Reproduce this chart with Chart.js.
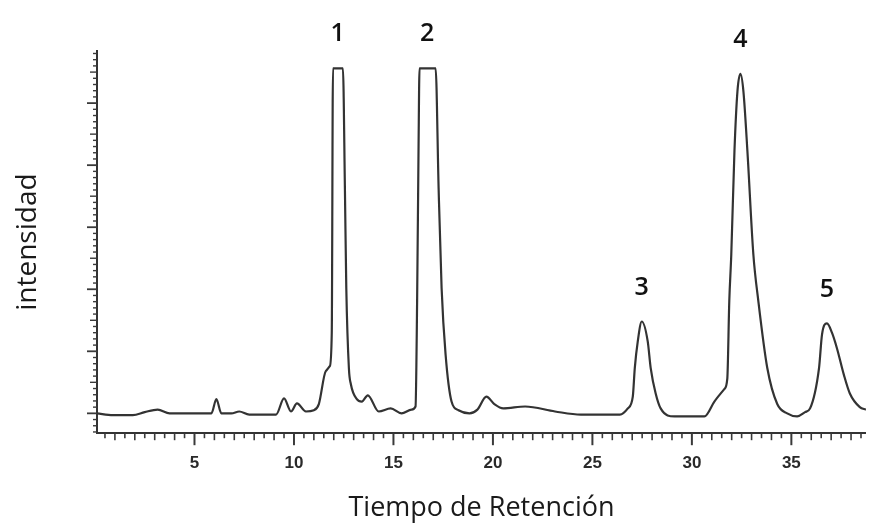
<!DOCTYPE html>
<html><head><meta charset="utf-8">
<script src="https://cdn.jsdelivr.net/npm/chart.js@4.4.0/dist/chart.umd.min.js"></script>
<style>html,body{margin:0;padding:0;background:#fff}</style>
</head><body>
<canvas id="c" width="869" height="532"></canvas>
<script>
// Retention time (min)
const retentionTime = [0.1, 0.9, 1.9, 2.5, 3.15, 3.75, 4.25, 5.85, 6.1, 6.35, 6.85, 7.25, 7.75, 9.1, 9.5, 9.85, 10.15, 10.6, 11.0, 11.25, 11.6, 11.8, 11.9, 11.96, 12.46, 12.56, 12.63, 12.76, 12.86, 13.16, 13.41, 13.71, 14.26, 14.86, 15.41, 15.91, 16.11, 16.19, 16.26, 16.31, 17.12, 17.27, 17.42, 17.62, 17.92, 18.27, 18.82, 19.22, 19.67, 20.07, 20.52, 21.62, 23.12, 24.42, 26.38, 26.78, 27.03, 27.13, 27.28, 27.48, 27.78, 27.93, 28.18, 28.43, 29.13, 30.63, 31.13, 31.63, 31.78, 31.88, 31.98, 32.14, 32.29, 32.44, 32.59, 32.79, 33.09, 33.34, 33.79, 34.29, 34.79, 35.29, 35.69, 35.94, 36.39, 36.54, 36.79, 37.04, 37.29, 37.64, 37.94, 38.44, 38.75];
// Detector intensity (arbitrary units)
const intensity = [0, -0.03, -0.03, 0.02, 0.06, 0, 0, 0, 0.23, 0, 0, 0.03, -0.02, -0.02, 0.24, 0.03, 0.16, 0.03, 0.05, 0.15, 0.68, 0.76, 1.3, 5.56, 5.56, 3.63, 2.02, 0.73, 0.47, 0.23, 0.19, 0.29, 0.03, 0.08, 0, 0.06, 0.11, 1.81, 4.23, 5.56, 5.56, 3.63, 2.02, 0.95, 0.19, 0.05, 0, 0.06, 0.27, 0.15, 0.08, 0.11, 0.03, -0.02, -0.02, 0.08, 0.27, 0.73, 1.16, 1.48, 1.16, 0.73, 0.32, 0.08, -0.05, -0.05, 0.19, 0.39, 0.56, 1.81, 2.56, 4.23, 5.19, 5.47, 5.19, 4.23, 2.56, 1.81, 0.73, 0.15, 0, -0.05, 0.02, 0.08, 0.73, 1.27, 1.45, 1.3, 1.05, 0.62, 0.32, 0.1, 0.06];
// Peak labels and their retention times
const peakNumbers = ['1', '2', '3', '4', '5'];
const peakTimes = [12.2, 16.7, 27.48, 32.44, 36.79];
// Labelled x ticks
const xTickLabels = [5, 10, 15, 20, 25, 30, 35];

const points = retentionTime.map((t, i) => ({x: t, y: intensity[i]}));
const near = (v, m) => Math.abs(v / m - Math.round(v / m)) < 1e-6;

const tickPlugin = {
  id: 'customTicks',
  afterDraw(chart) {
    const ctx = chart.ctx, xs = chart.scales.x, ys = chart.scales.y;
    ctx.save();
    ctx.strokeStyle = '#3a3a3a';
    xs.ticks.forEach(t => {
      const v = t.value, px = xs.getPixelForValue(v);
      const len = near(v, 5) ? 12 : (near(v, 1) ? 7 : 5);
      ctx.lineWidth = near(v, 5) ? 2 : 1.6;
      ctx.beginPath(); ctx.moveTo(px, xs.top); ctx.lineTo(px, xs.top + len); ctx.stroke();
    });
    ys.ticks.forEach(t => {
      const v = t.value, py = ys.getPixelForValue(v);
      const len = near(v, 1) ? 10 : (near(v, 0.5) ? 7 : 4);
      ctx.lineWidth = near(v, 1) ? 1.8 : 1.4;
      ctx.beginPath(); ctx.moveTo(ys.right, py); ctx.lineTo(ys.right - len, py); ctx.stroke();
    });
    // peak numbers
    ctx.fillStyle = '#111';
    ctx.font = '600 25px "Open Sans"';
    ctx.textAlign = 'center';
    ctx.textBaseline = 'middle';
    peakNumbers.forEach((lab, i) => {
      let m = -Infinity;
      retentionTime.forEach((t, j) => { if (Math.abs(t - peakTimes[i]) < 0.8) m = Math.max(m, intensity[j]); });
      ctx.fillText(lab, xs.getPixelForValue(peakTimes[i]), ys.getPixelForValue(m) - 34);
    });
    ctx.restore();
  }
};

new Chart(document.getElementById('c'), {
  type: 'line',
  data: { datasets: [{
    data: points,
    borderColor: '#333',
    borderWidth: 2.2,
    pointRadius: 0,
    fill: false,
    cubicInterpolationMode: 'monotone'
  }]},
  options: {
    responsive: false,
    animation: false,
    layout: { padding: { top: 51, right: 0, left: 0, bottom: 0 } },
    plugins: { legend: { display: false }, tooltip: { enabled: false } },
    scales: {
      x: {
        type: 'linear',
        min: 0.1, max: 38.75,
        border: { display: true, color: '#333', width: 2 },
        grid: { display: true, drawOnChartArea: false, drawTicks: true, tickLength: 12, tickColor: 'rgba(0,0,0,0)' },
        ticks: {
          stepSize: 0.5, includeBounds: false, autoSkip: false, maxRotation: 0, minRotation: 0, padding: 8,
          color: '#2a2a2a', font: { family: '"Liberation Sans", Arial, sans-serif', size: 17, weight: 'bold' },
          callback: v => xTickLabels.some(l => Math.abs(l - v) < 1e-6) ? String(v) : ''
        },
        title: { display: true, text: 'Tiempo de Retención', color: '#1a1a1a',
          font: { family: '"Open Sans"', size: 27, weight: 'normal' }, padding: { top: 11, bottom: 7 } }
      },
      y: {
        type: 'linear',
        min: -0.32, max: 5.84,
        border: { display: true, color: '#333', width: 2 },
        grid: { display: true, drawOnChartArea: false, drawTicks: true, tickLength: 10, tickColor: 'rgba(0,0,0,0)' },
        ticks: { display: false, stepSize: 0.1, includeBounds: false, autoSkip: false },
        title: { display: true, text: 'intensidad', color: '#1a1a1a',
          font: { family: '"Open Sans"', size: 28, weight: 'normal' }, padding: { top: 11.2, bottom: 42.2 } }
      }
    }
  },
  plugins: [tickPlugin]
});
</script>
</body></html>
